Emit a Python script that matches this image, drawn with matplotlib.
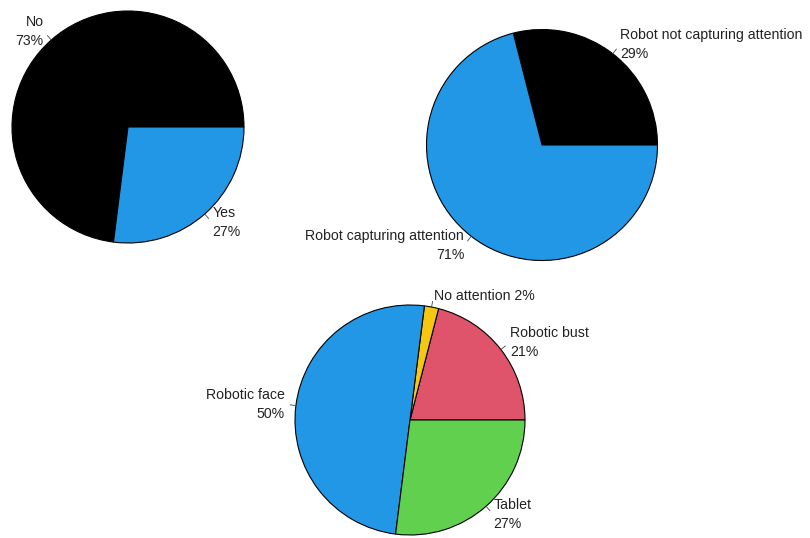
import numpy as np
import matplotlib.pyplot as plt

plt.rcParams['font.family'] = ['Liberation Sans', 'DejaVu Sans']

# Pie 1
p1_names = ['No', 'Yes']
p1_values = [73, 27]
p1_colors = ['#000000', '#2297E6']

# Pie 2
p2_names = ['Robot not capturing attention', 'Robot capturing attention']
p2_values = [29, 71]
p2_colors = ['#000000', '#2297E6']

# Pie 3
p3_names = ['Robotic bust', 'No attention', 'Robotic face', 'Tablet']
p3_values = [21, 2, 50, 27]
p3_colors = ['#DF536B', '#F5C710', '#2297E6', '#61D04F']
p3_sep = ['\n', ' ', '\n', '\n']

W, H = 810, 538
fig = plt.figure(figsize=(W / 100, H / 100), dpi=100)
ax = fig.add_axes([0, 0, 1, 1])
ax.set_xlim(0, W)
ax.set_ylim(0, H)
ax.set_aspect('equal')
ax.axis('off')


def r_pie(values, names, colors, cx, cy, r, seps=None):
    if seps is None:
        seps = ['\n'] * len(values)
    labels = [f'{n}{s}{v}%' for n, s, v in zip(names, seps, values)]
    wedges, texts = ax.pie(values, colors=colors, labels=labels, startangle=0,
                           counterclock=True, center=(cx, H - cy), radius=r,
                           labeldistance=1.1, normalize=True,
                           wedgeprops=dict(edgecolor='black', linewidth=0.8),
                           textprops=dict(fontsize=10.2, color='#222222',
                                          linespacing=1.45))
    for w, t in zip(wedges, texts):
        mid = np.deg2rad((w.theta1 + w.theta2) / 2)
        x0, y0 = w.center
        ha = 'left' if np.cos(mid) > 0 else 'right'
        t.set_ha(ha)
        t.set_multialignment(ha)
        t.set_va('center')
        ax.plot([x0 + r * np.cos(mid), x0 + 1.05 * r * np.cos(mid)],
                [y0 + r * np.sin(mid), y0 + 1.05 * r * np.sin(mid)],
                color='#444444', linewidth=0.6)


r_pie(p1_values, p1_names, p1_colors, 128, 127, 116)
r_pie(p2_values, p2_names, p2_colors, 542, 145, 115.5)
r_pie(p3_values, p3_names, p3_colors, 410, 420, 115, p3_sep)

ax.set_xlim(0, W)
ax.set_ylim(0, H)

fig.savefig('out.png', dpi=100)
